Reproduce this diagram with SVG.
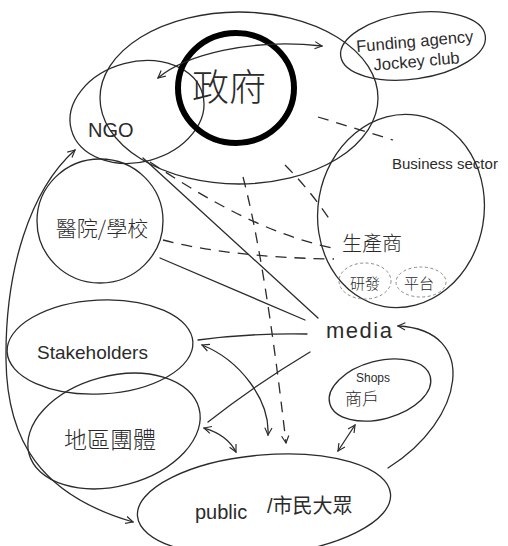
<svg xmlns="http://www.w3.org/2000/svg" width="508" height="546" viewBox="0 0 508 546">
<style>
  .bg{fill:#ffffff}
  .ln{fill:none;stroke:#2b2b2b;stroke-width:1.3;stroke-linecap:round}
  .dash{fill:none;stroke:#2b2b2b;stroke-width:1.3;stroke-dasharray:11 8}
  .sub{fill:none;stroke:#8a8a8a;stroke-width:1;stroke-dasharray:3 2.5}
  .gov{fill:none;stroke:#000;stroke-width:6}
  .t{font-family:"Liberation Sans","Noto Sans CJK TC",sans-serif;fill:#2b2b2b}
  .c{font-family:"Noto Sans CJK TC","Liberation Sans",sans-serif;fill:#2b2b2b;font-weight:300}
</style>
<defs>
  <marker id="ah" viewBox="0 0 10 10" refX="9" refY="5" markerWidth="9" markerHeight="9" markerUnits="userSpaceOnUse" orient="auto-start-reverse">
    <path d="M1,1 L9,5 L1,9" fill="none" stroke="#2b2b2b" stroke-width="1.3"/>
  </marker>
</defs>
<rect class="bg" x="0" y="0" width="508" height="546"/>

<g id="government-sphere">
  <ellipse class="ln" cx="239" cy="98" rx="139" ry="86"/>
</g>
<g id="ngo">
  <ellipse class="ln" cx="137" cy="112" rx="68" ry="50" transform="rotate(-15 137 112)"/>
  <text class="t" x="88" y="137" font-size="20">NGO</text>
</g>
<g id="government">
  <ellipse class="gov" cx="236" cy="88" rx="58" ry="55"/>
  <text class="c" x="229" y="101" font-size="37" text-anchor="middle">政府</text>
</g>
<g id="funding">
  <ellipse class="ln" cx="413" cy="46" rx="73" ry="33" transform="rotate(-8 413 46)"/>
  <g transform="rotate(-5 415 55)">
    <text class="t" x="416" y="47" font-size="16.5" text-anchor="middle">Funding agency</text>
    <text class="t" x="416" y="67" font-size="16.5" text-anchor="middle">Jockey club</text>
  </g>
</g>
<g id="business">
  <ellipse class="ln" cx="401" cy="211" rx="83" ry="97" transform="rotate(10 401 211)"/>
  <text class="t" x="392" y="169" font-size="15">Business sector</text>
</g>
<g id="producer">
  <text class="c" x="372" y="251" font-size="20" text-anchor="middle">生產商</text>
</g>
<g id="rnd">
  <ellipse class="sub" cx="365" cy="281" rx="26" ry="18"/>
  <text class="c" x="365" y="289" font-size="15" text-anchor="middle">研發</text>
</g>
<g id="platform">
  <ellipse class="sub" cx="421" cy="282" rx="25" ry="15"/>
  <text class="c" x="419" y="289" font-size="15" text-anchor="middle">平台</text>
</g>
<g id="hospital-school">
  <ellipse class="ln" cx="100" cy="221" rx="63" ry="62"/>
  <text class="c" x="102" y="236" font-size="21" text-anchor="middle">醫院/學校</text>
</g>
<g id="stakeholders">
  <ellipse class="ln" cx="100" cy="347" rx="93" ry="47" transform="rotate(-3 100 347)"/>
  <text class="t" x="37" y="359" font-size="19">Stakeholders</text>
</g>
<g id="district-groups">
  <ellipse class="ln" cx="114" cy="431" rx="88" ry="55" transform="rotate(-15 114 431)"/>
  <text class="c" x="110" y="448" font-size="23" text-anchor="middle">地區團體</text>
</g>
<g id="media">
  <text class="t" x="326" y="338" font-size="22" letter-spacing="1.5">media</text>
</g>
<g id="shops">
  <ellipse class="ln" cx="380" cy="390" rx="52" ry="29" transform="rotate(-15 380 390)"/>
  <text class="t" x="373" y="382" font-size="12" text-anchor="middle">Shops</text>
  <text class="c" x="362" y="405" font-size="17" text-anchor="middle">商戶</text>
</g>
<g id="public">
  <ellipse class="ln" cx="264" cy="505" rx="127" ry="50" transform="rotate(-5 264 505)"/>
  <text class="t" font-size="20"><tspan x="195" y="519">public</tspan><tspan x="267" y="513">/市民大眾</tspan></text>
</g>

<g id="connectors">
  <path class="ln" d="M158,78 C185,55 250,38 322,46" marker-start="url(#ah)" marker-end="url(#ah)"/>
  <path class="ln" d="M75,150 C30,190 5,270 6,360 C7,440 40,495 133,522" marker-start="url(#ah)" marker-end="url(#ah)"/>
  <path class="ln" d="M202,345 C240,360 270,400 268,435" marker-start="url(#ah)" marker-end="url(#ah)"/>
  <path class="ln" d="M204,428 C218,432 230,440 236,452" marker-start="url(#ah)" marker-end="url(#ah)"/>
  <path class="ln" d="M355,425 L338,451" marker-start="url(#ah)" marker-end="url(#ah)"/>
  <path class="ln" d="M388,468 C465,420 480,330 398,326" marker-end="url(#ah)"/>
  <path class="ln" d="M143,158 L318,318"/>
  <path class="ln" d="M160,258 L305,320"/>
  <path class="ln" d="M198,340 Q250,333 307,334"/>
  <path class="ln" d="M208,422 Q255,385 310,352"/>
  <path class="dash" d="M243,177 Q265,260 286,443" marker-end="url(#ah)"/>
  <path class="dash" d="M150,162 C200,195 260,232 332,248"/>
  <path class="dash" d="M163,240 C200,250 260,258 334,259"/>
  <path class="dash" d="M285,165 Q310,190 330,220"/>
  <path class="dash" d="M318,117 L393,140"/>
</g>
</svg>
